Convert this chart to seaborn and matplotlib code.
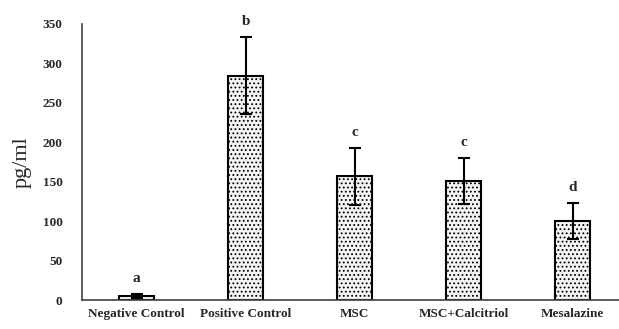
import matplotlib
matplotlib.use("Agg")
import matplotlib.pyplot as plt
import seaborn as sns
import pandas as pd

categories = ["Negative Control", "Positive Control", "MSC", "MSC+Calcitriol", "Mesalazine"]
means = [5, 284, 157, 151, 100]
errors = [3, 49, 36, 29, 23]
letters = ["a", "b", "c", "c", "d"]
yticks = [0, 50, 100, 150, 200, 250, 300, 350]

sns.set_theme(style="white")
plt.rcParams['font.family'] = ['Liberation Serif', 'DejaVu Serif']
plt.rcParams['hatch.color'] = '#b8b8b8'
plt.rcParams['hatch.linewidth'] = 0.8

df = pd.DataFrame({"group": categories, "value": means})

fig = plt.figure(figsize=(6.19, 3.29), dpi=100)
ax = fig.add_axes([0.1325, 0.088, 0.872, 0.84])

sns.barplot(data=df, x="group", y="value", ax=ax, color="#f4f4f4", width=0.32,
            edgecolor="black", linewidth=1.5, hatch="....", errorbar=None)
ax.errorbar(categories, means, yerr=errors, fmt="none", ecolor="black",
            elinewidth=1.5, capsize=4, capthick=1.5)

for i, (m, e, l) in enumerate(zip(means, errors, letters)):
    ax.text(i, m + e + 11, l, ha="center", va="bottom", fontsize=11, fontweight="bold")

ax.set_ylim(0, 350)
ax.set_xlim(-0.5, 4.45)
ax.set_yticks(yticks)
ax.set_yticklabels([str(t) for t in yticks], fontsize=9.5, fontweight="bold")
ax.set_xticks(range(len(categories)))
ax.set_xticklabels(categories, fontsize=9.5, fontweight="bold")
ax.tick_params(axis="y", length=0, pad=14)
ax.tick_params(axis="x", length=0, pad=6)
ax.set_xlabel("")
ax.set_ylabel("pg/ml", fontsize=16, labelpad=8)

for s in ["top", "right"]:
    ax.spines[s].set_visible(False)
for s in ["left", "bottom"]:
    ax.spines[s].set_color("#404040")
    ax.spines[s].set_linewidth(1.2)

fig.savefig("out.png", dpi=100)
